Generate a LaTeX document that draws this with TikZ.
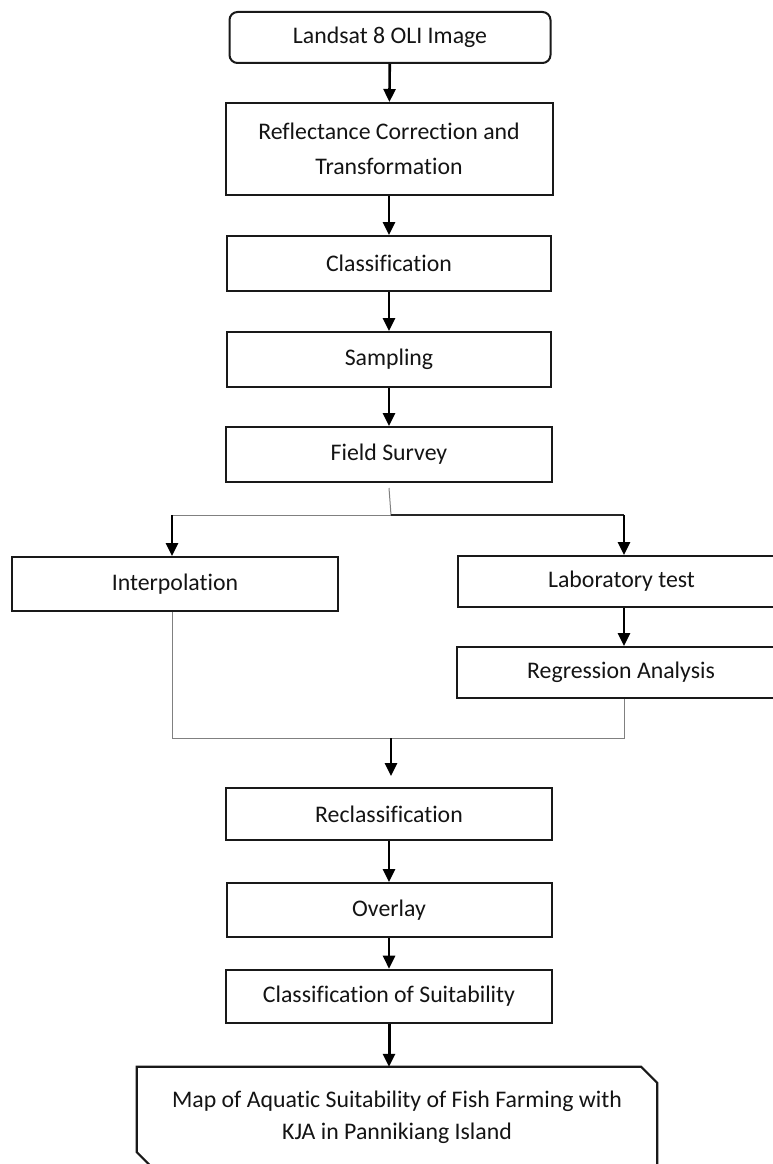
\documentclass[tikz,border=0pt]{standalone}
\usepackage{fontspec}
\setmainfont{Carlito}[Ligatures={NoCommon}]
\usetikzlibrary{arrows.meta,calc}
\begin{document}
\begin{tikzpicture}[x=1pt,y=-1pt,
  font=\fontsize{23.8}{35}\selectfont,
  box/.style={draw=black!90, line width=2pt, rectangle, align=center, inner sep=0pt, text=black!92},
  arr/.style={draw=black, line width=2.6pt, -{Triangle[length=13pt,width=12pt]}},
  thinline/.style={draw=black!50, line width=1pt},
  boldline/.style={draw=black!85, line width=1.6pt}]
\useasboundingbox (0,0) rectangle (773,1164);
\clip (0,0) rectangle (773,1164);
\fill[white] (0,0) rectangle (773,1164);

\node[box, rounded corners=8pt, minimum width=321pt, minimum height=51pt] (land) at (390,37.5) {Landsat 8 OLI Image};
\node[box, minimum width=327pt, minimum height=92pt] (refl) at (389,149) {Reflectance Correction and\\Transformation};
\node[box, minimum width=324pt, minimum height=55pt] (cls) at (389,263.5) {Classification};
\node[box, minimum width=324pt, minimum height=55pt] (samp) at (389,359.5) {Sampling};
\node[box, minimum width=326pt, minimum height=55pt] (field) at (389,454.5) {Field Survey};
\node[box, minimum width=326pt, minimum height=54pt] (interp) at (175,584) {Interpolation};
\node[box, minimum width=327pt, minimum height=51pt] (lab) at (621.5,581.5) {Laboratory test};
\node[box, minimum width=328pt, minimum height=51pt] (reg) at (621,672.5) {Regression Analysis};
\node[box, minimum width=326pt, minimum height=52pt] (recl) at (389,814) {Reclassification};
\node[box, minimum width=325pt, minimum height=54pt] (over) at (389,910) {Overlay};
\node[box, line width=2.6pt, minimum width=326pt, minimum height=53pt] (cos) at (389,996.5) {Classification of Suitability};
\node[inner sep=0pt, minimum width=520pt, minimum height=101pt, align=center, text=black!92, font=\fontsize{23.8}{32}\selectfont] (map) at (397,1117.5) {Map of Aquatic Suitability of Fish Farming with\\KJA in Pannikiang Island};
\draw[draw=black!90, line width=2.2pt] (map.north west) -- ($(map.north east)+(-16,0)$) -- ($(map.north east)+(0,16)$) -- (map.south east) -- ($(map.south west)+(16,0)$) -- ($(map.south west)+(0,-16)$) -- cycle;

\draw[arr] (land) -- (refl);
\draw[arr] (refl) -- (cls);
\draw[arr] (cls) -- (samp);
\draw[arr] (samp) -- (field);

\coordinate (split) at (391,515);
\coordinate (lsplit) at (172,515);
\coordinate (rsplit) at (624,515);
\draw[thinline] ([yshift=-5pt]field.south) -- (split);
\draw[thinline] (lsplit) -- (split);
\draw[boldline] (split) -- (rsplit);
\draw[arr] (lsplit) -- (lsplit |- interp.north);
\draw[arr] (rsplit) -- (rsplit |- lab.north);
\draw[arr] (lab.south -| rsplit) -- (reg.north -| rsplit);

\coordinate (merge) at (391,738);
\draw[thinline] (interp.south -| lsplit) -- (lsplit |- merge) -- (rsplit |- merge) -- (reg.south -| rsplit);
\draw[arr, shorten >=11pt] (merge) -- (recl.north -| merge);
\draw[arr] (recl) -- (over);
\draw[arr] (over) -- (cos);
\draw[arr, line width=3pt] (cos.south) -- (map.north -| cos.south);
\end{tikzpicture}
\end{document}
